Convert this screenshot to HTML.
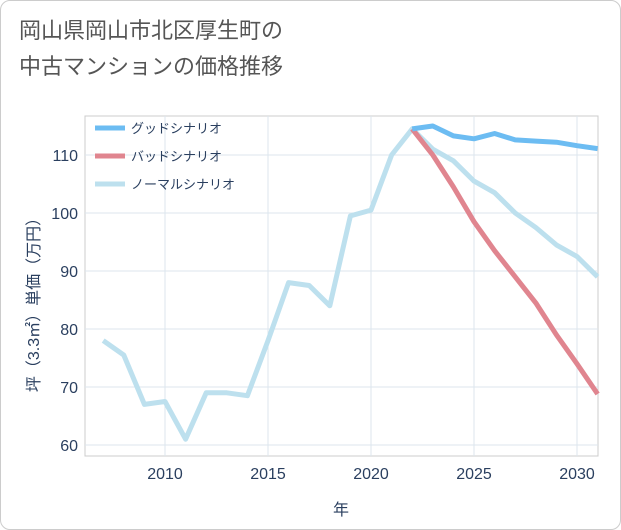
<!DOCTYPE html>
<html><head><meta charset="utf-8"><style>
body{margin:0;background:#fff;}
.wrap{position:relative;width:619px;height:528px;border:1px solid #ccc;border-radius:10px;overflow:hidden;background:#fff;font-family:"Liberation Sans","Noto Sans CJK JP",sans-serif;}
.title{position:absolute;left:18px;top:12px;font-size:22px;line-height:36px;color:#555;}
</style></head><body>
<div class="wrap">
<div class="title">岡山県岡山市北区厚生町の<br>中古マンションの価格推移</div>
<svg id="chart" width="621" height="530" style="position:absolute;left:0;top:0"></svg>
</div>
<script>
const years=[2007,2008,2009,2010,2011,2012,2013,2014,2015,2016,2017,2018,2019,2020,2021,2022,2023,2024,2025,2026,2027,2028,2029,2030,2031];
const normalVals=[78,75.5,67,67.5,61,69,69,68.5,78,88,87.5,84,99.5,100.5,110,114.5,111,109,105.5,103.5,100,97.5,94.5,92.5,89];
const futureYears=[2022,2023,2024,2025,2026,2027,2028,2029,2030,2031];
const goodVals=[114.5,115,113.3,112.8,113.7,112.6,112.4,112.2,111.6,111.1];
const badVals=[114.5,110,104.5,98.5,93.5,89,84.5,79,74,68.8];
const xTicks=[2010,2015,2020,2025,2030];
const yTicks=[60,70,80,90,100,110];
const L=84,R=597,T=115,B=455;
const xs=y=>164+(y-2010)*20.6;
const ys=v=>444-(v-60)*5.8;
const svg=document.getElementById('chart');
const NS='http://www.w3.org/2000/svg';
function mk(t,a){const e=document.createElementNS(NS,t);for(const k in a)e.setAttribute(k,a[k]);svg.appendChild(e);return e;}
let f=mk('rect',{x:L,y:T,width:R-L,height:B-T,fill:'none',stroke:'#ccc'});

xTicks.forEach(t=>{const x=xs(t);
 let g=mk('line',{x1:x,x2:x,y1:T,y2:B,stroke:'#dce6ee'});
 
 let s=mk('text',{x:x,y:478,'text-anchor':'middle','font-size':16,fill:'#2a3f5f'});s.textContent=t;
 });
yTicks.forEach(t=>{const y=ys(t);
 let g=mk('line',{x1:L,x2:R,y1:y,y2:y,stroke:'#dce6ee'});
 
 let s=mk('text',{x:77,y:y+6,'text-anchor':'end','font-size':16,fill:'#2a3f5f'});s.textContent=t;
 });
let xt=mk('text',{x:340,y:514,'text-anchor':'middle','font-size':16,fill:'#2a3f5f'});xt.textContent='年';

let yt=mk('text',{x:0,y:0,'text-anchor':'middle','font-size':16,fill:'#2a3f5f',transform:'translate(38,300) rotate(-90)'});yt.textContent='坪（3.3㎡）単価（万円）';

function line(xv,vals,color,name){
 const d=vals.map((v,i)=>(i?'L':'M')+xs(xv[i]).toFixed(1)+','+ys(v).toFixed(1)).join(' ');
 let p=mk('path',{d:d,fill:'none',stroke:color,'stroke-width':5,'stroke-linejoin':'round'});
 }
line(years,normalVals,'#bde0ee','normal-scenario-line');
line(futureYears,badVals,'#e0858f','bad-scenario-line');
line(futureYears,goodVals,'#6cbcf2','good-scenario-line');
const leg=[['グッドシナリオ','#6cbcf2'],['バッドシナリオ','#e0858f'],['ノーマルシナリオ','#bde0ee']];
leg.forEach((l,i)=>{const y=127+i*28;
 let a=mk('line',{x1:94,x2:124,y1:y,y2:y,stroke:l[1],'stroke-width':5});
 
 let s=mk('text',{x:130,y:y+5,'font-size':13,fill:'#2a3f5f'});s.textContent=l[0];
 });
</script>
</body></html>
